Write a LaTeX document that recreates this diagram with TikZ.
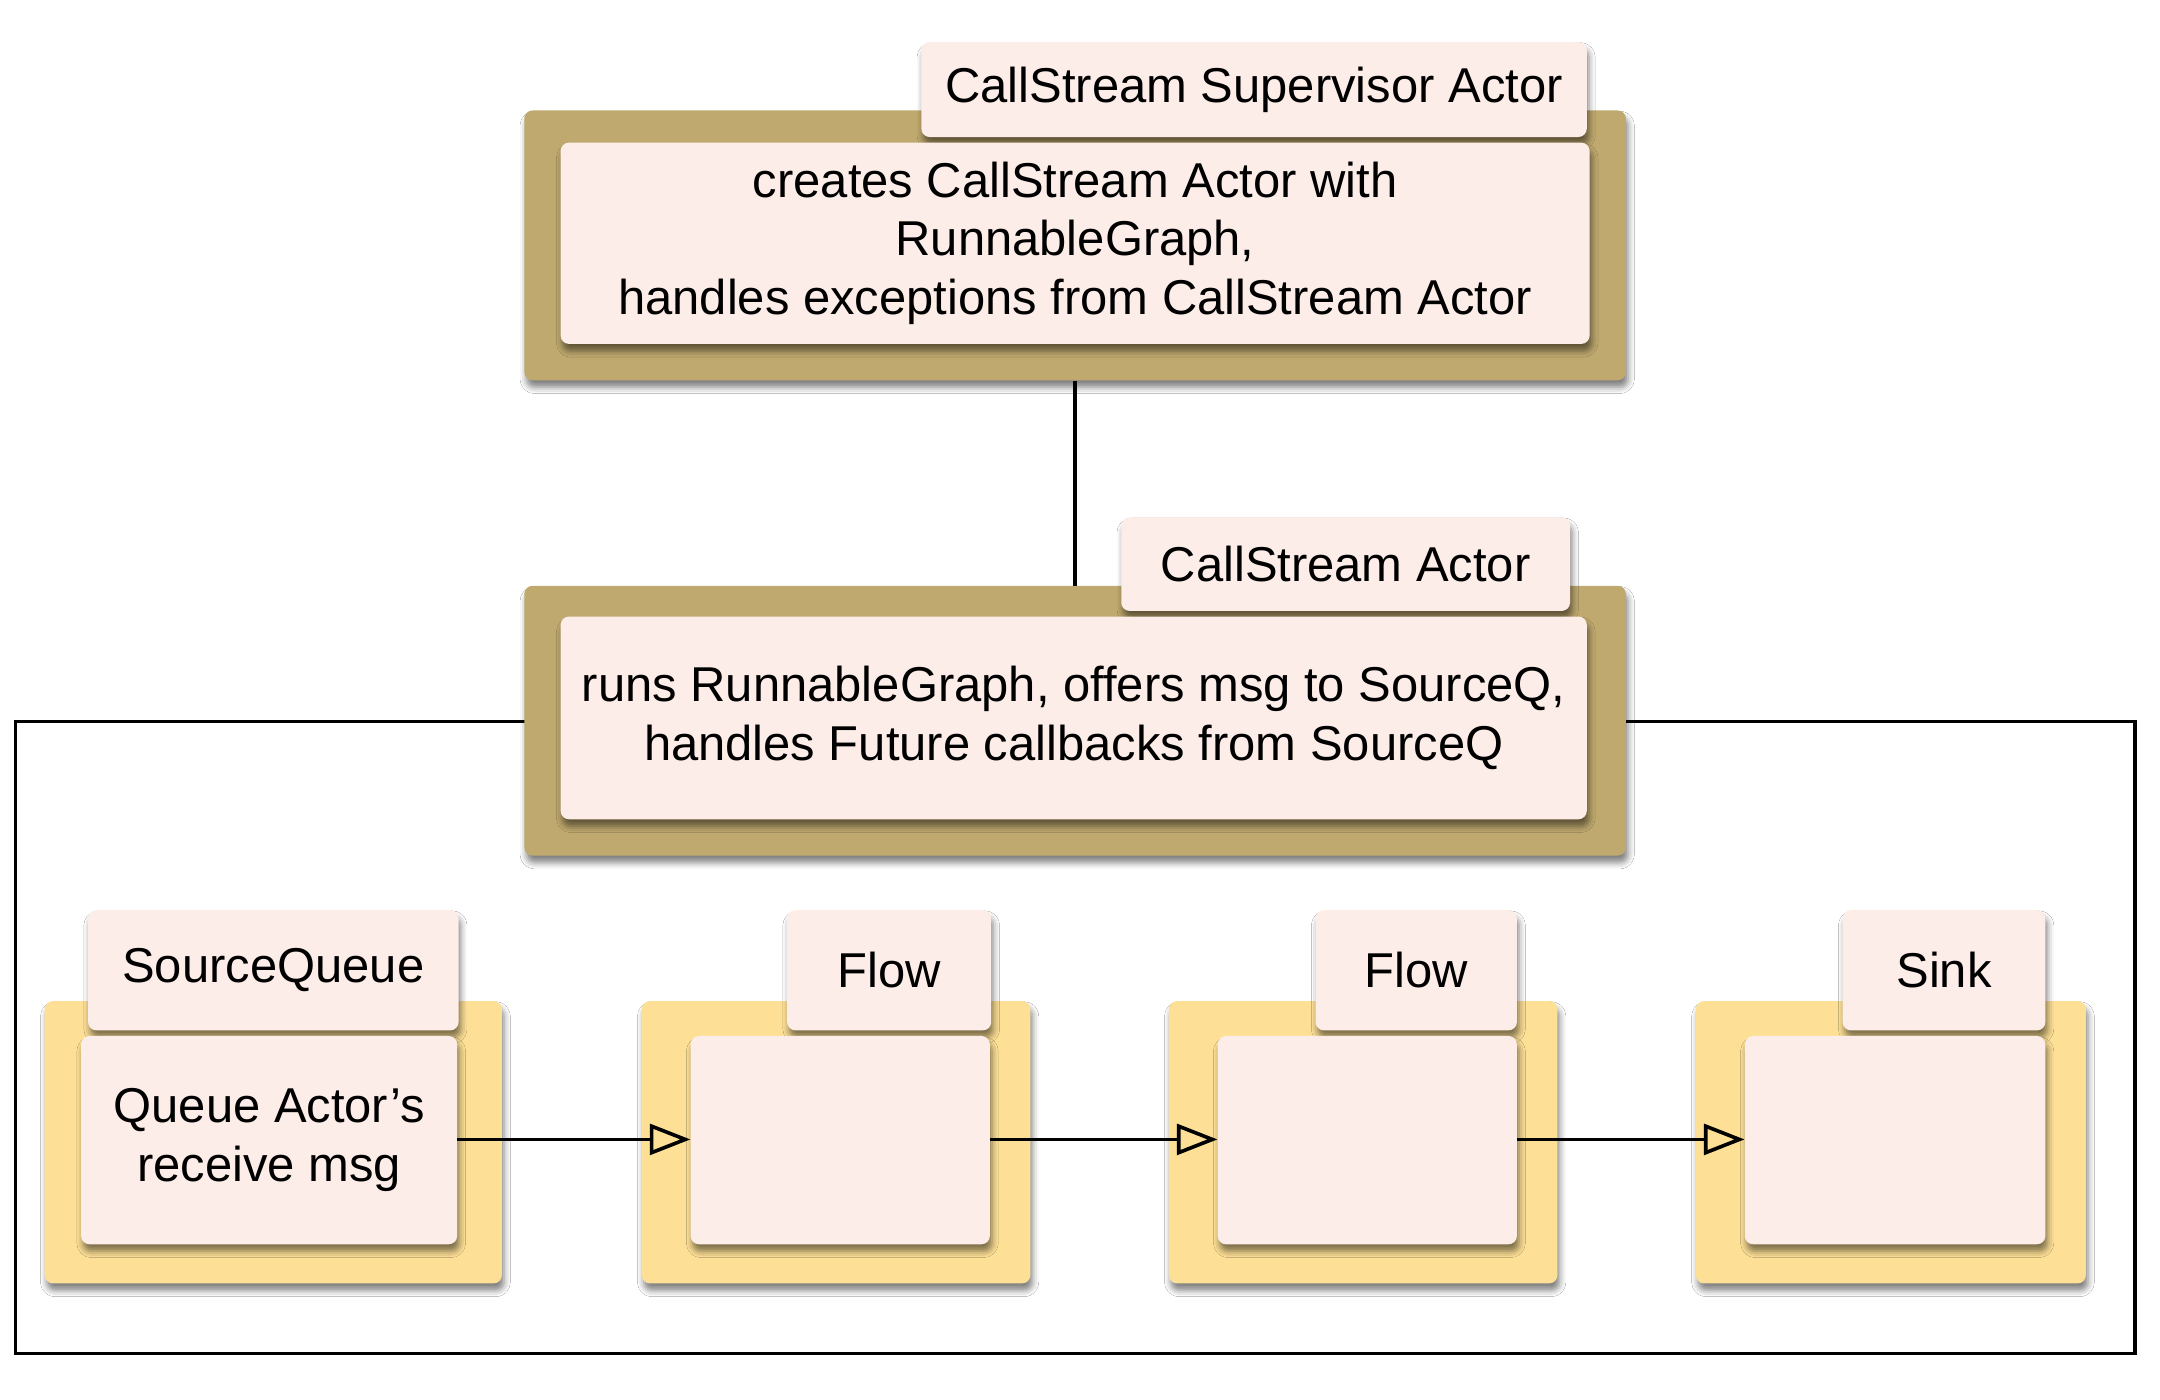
\documentclass[tikz,border=0pt]{standalone}
\usepackage{fontspec}
\setmainfont{Liberation Sans}
\usetikzlibrary{arrows.meta,shadows.blur}
\definecolor{tanbox}{HTML}{BFA96F}
\definecolor{pinkbox}{HTML}{FDEDE8}
\definecolor{yellowbox}{HTML}{FDE096}
\tikzset{
  shd/.style={blur shadow={shadow xshift=1.5pt, shadow yshift=-5pt, shadow blur radius=4.5pt, shadow opacity=50}},
  tanouter/.style={shd, fill=tanbox, rounded corners=6pt, inner sep=0pt, minimum width=788pt, minimum height=193pt},
  yelouter/.style={shd, fill=yellowbox, rounded corners=6pt, inner sep=0pt, minimum height=202pt},
  pinkbx/.style={shd, fill=pinkbox, rounded corners=6pt, inner sep=0pt, align=center, font=\fontsize{35}{42}\selectfont},
  conn/.style={line width=2.6pt, -{Triangle[open, length=29pt, width=22pt, line width=2.6pt]}},
}
\begin{document}
\begin{tikzpicture}[x=1pt, y=-1pt]
\useasboundingbox (0,0) rectangle (1545,1001);
\fill[white] (0,0) rectangle (1545,1001);
% frame
\draw[line width=2.6pt] (11,516) rectangle (1527,968);
% top group
\node[tanouter] (supOuter) at (769,175.5) {};
\node[pinkbx, minimum width=476pt, minimum height=68pt] (supLabel) at (897,64) {CallStream Supervisor Actor};
\node[pinkbx, minimum width=736pt, minimum height=144pt] (supInner) at (769,174) {creates CallStream Actor with\\RunnableGraph,\\handles exceptions from CallStream Actor};
% middle group
\node[tanouter] (midOuter) at (769,515.5) {};
\draw[line width=2.6pt] (supOuter.south) -- (midOuter.north);
\node[pinkbx, minimum width=321pt, minimum height=67pt] (midLabel) at (962.5,403.5) {CallStream Actor};
\node[pinkbx, minimum width=734pt, minimum height=145pt] (midInner) at (768,513.5) {runs RunnableGraph, offers msg to SourceQ,\\handles Future callbacks from SourceQ};
% bottom groups
\node[yelouter, minimum width=327pt] (qOuter) at (195.5,817) {};
\node[pinkbx, minimum width=265pt, minimum height=86pt] (qLabel) at (195.5,694) {SourceQueue};
\node[pinkbx, minimum width=269pt, minimum height=149pt] (qInner) at (192.5,815.5) {Queue Actor’s\\receive msg};
\node[yelouter, minimum width=278pt] (f1Outer) at (598,817) {};
\node[pinkbx, minimum width=146pt, minimum height=86pt] (f1Label) at (636,694) {Flow};
\node[pinkbx, minimum width=214pt, minimum height=149pt] (f1Inner) at (601,815.5) {};
\node[yelouter, minimum width=278pt] (f2Outer) at (975,817) {};
\node[pinkbx, minimum width=144pt, minimum height=86pt] (f2Label) at (1013,694) {Flow};
\node[pinkbx, minimum width=214pt, minimum height=149pt] (f2Inner) at (978,815.5) {};
\node[yelouter, minimum width=279pt] (sOuter) at (1352.5,817) {};
\node[pinkbx, minimum width=145pt, minimum height=86pt] (sLabel) at (1390.5,694) {Sink};
\node[pinkbx, minimum width=215pt, minimum height=149pt] (sInner) at (1355.5,815.5) {};
% connectors
\draw[conn] (qInner.east |- 0,815) -- (f1Inner.west |- 0,815);
\draw[conn] (f1Inner.east |- 0,815) -- (f2Inner.west |- 0,815);
\draw[conn] (f2Inner.east |- 0,815) -- (sInner.west |- 0,815);
\end{tikzpicture}
\end{document}
